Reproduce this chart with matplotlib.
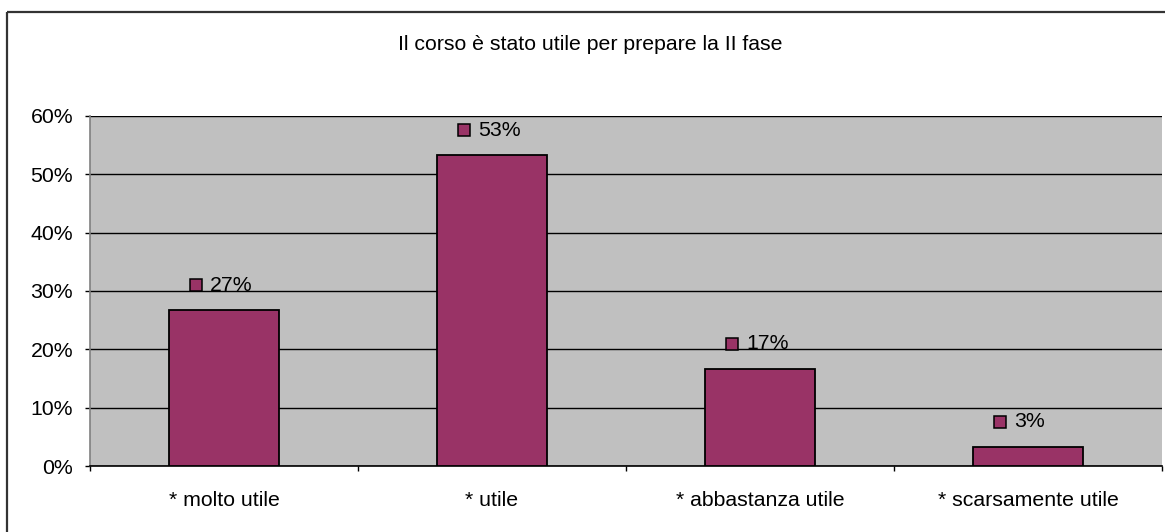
import matplotlib
matplotlib.use("Agg")
import matplotlib.pyplot as plt
import matplotlib.transforms as mtransforms
from matplotlib.patches import Rectangle
from matplotlib.ticker import FixedLocator, PercentFormatter

categories = ["* molto utile", "* utile", "* abbastanza utile", "* scarsamente utile"]
values = [26.7, 53.3, 16.7, 3.3]
value_labels = ["27%", "53%", "17%", "3%"]
y_ticks = [0, 10, 20, 30, 40, 50, 60]
title = "Il corso è stato utile per prepare la II fase"

BAR_COLOR = "#993366"
BG = "#C0C0C0"
FS = 15.3

plt.rcParams['font.family'] = ['Liberation Sans', 'DejaVu Sans']

W, H = 1165, 532
fig = plt.figure(figsize=(W / 100, H / 100), dpi=100)
fig.patch.set_facecolor("white")

# outer border
fig.patches.append(Rectangle((7 / W, 1 - 12 / H), 2, -2, transform=fig.transFigure,
                             fill=False, edgecolor="#333333", linewidth=1.6))

left, right, top, bottom = 90, 1162, 116, 466
ax = fig.add_axes([left / W, 1 - bottom / H, (right - left) / W, (bottom - top) / H])
ax.set_facecolor(BG)

x = list(range(1, len(categories) + 1))
ax.bar(x, values, width=0.41, color=BAR_COLOR, edgecolor="black", linewidth=1.3, zorder=3)

ax.set_xlim(0.5, len(categories) + 0.5)
ax.set_ylim(0, 60)
ax.set_yticks(y_ticks)
ax.yaxis.set_major_formatter(PercentFormatter(decimals=0))
ax.grid(axis="y", color="black", linewidth=1.0, zorder=1)
ax.set_axisbelow(True)

ax.set_xticks(x)
ax.set_xticklabels(categories)
ax.xaxis.set_minor_locator(FixedLocator([i + 0.5 for i in range(0, len(categories) + 1)]))
ax.tick_params(axis="x", which="major", length=0, pad=18, labelsize=FS)
ax.tick_params(axis="x", which="minor", length=5 * 0.72, width=1, direction="out", color="black")
ax.tick_params(axis="y", length=5 * 0.72, width=1, pad=12 * 0.72, labelsize=FS, color="black")

for s in ["top", "right"]:
    ax.spines[s].set_visible(False)
ax.spines["left"].set_color("#808080")
ax.spines["left"].set_linewidth(1.2)
ax.spines["bottom"].set_color("black")
ax.spines["bottom"].set_linewidth(1.2)

for xi, v, lab in zip(x, values, value_labels):
    mtr = mtransforms.offset_copy(ax.transData, fig=fig, x=-28, y=25, units="dots")
    ax.plot([xi], [v], marker="s", markersize=8.5, markerfacecolor=BAR_COLOR,
            markeredgecolor="black", markeredgewidth=1.1, transform=mtr, zorder=5, clip_on=False)
    ttr = mtransforms.offset_copy(ax.transData, fig=fig, x=-14, y=25, units="dots")
    ax.text(xi, v, lab, transform=ttr, ha="left", va="center", fontsize=FS, zorder=5)

fig.text(590 / W, 1 - 45 / H, title, ha="center", va="center", fontsize=FS)

fig.savefig("out.png", dpi=100)
